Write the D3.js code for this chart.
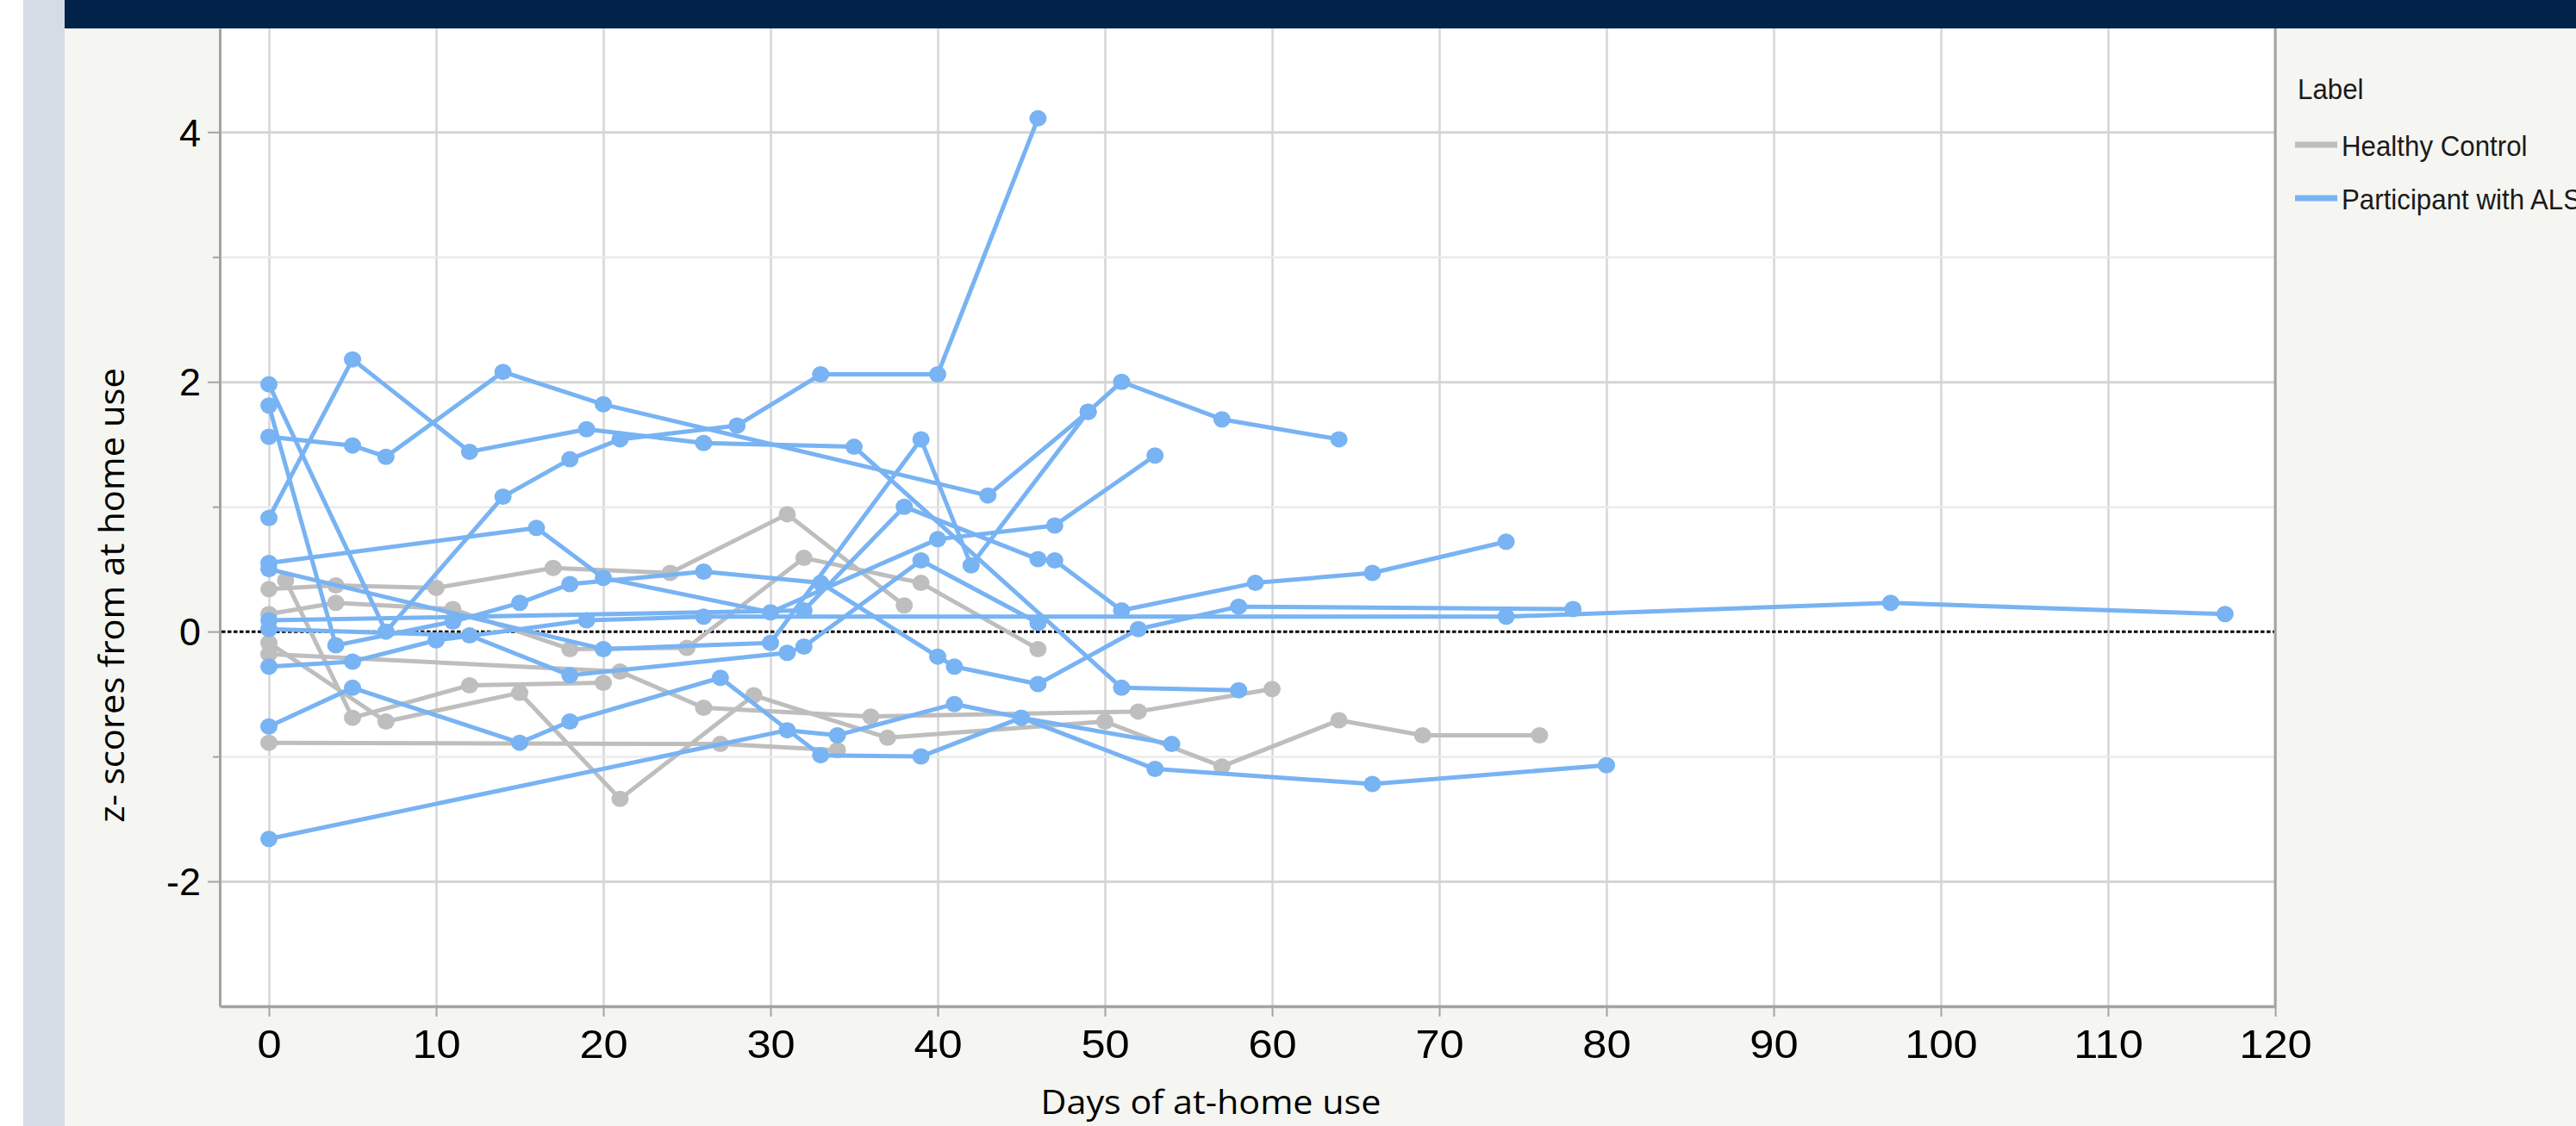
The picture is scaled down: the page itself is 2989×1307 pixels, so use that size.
<!DOCTYPE html>
<html>
<head>
<meta charset="utf-8">
<script src="https://cdn.jsdelivr.net/npm/d3@7"></script>
<style>
  html, body { margin: 0; padding: 0; background: #ffffff; }
  svg { display: block; }
</style>
</head>
<body>
<svg id="chart" width="2989" height="1307"></svg>
<script>
// ---- data: [day of at-home use, z-score] per participant ----
// Healthy controls
const hc1 = [[0,0.34],[4,0.37],[10,0.35],[17,0.51],[24,0.47],[31,0.94],[38,0.21]];
const hc2 = [[0,0.14],[4,0.23],[11,0.18],[18,-0.14],[25,-0.13],[32,0.59],[39,0.39],[46,-0.14]];
const hc3 = [[1,0.41],[5,-0.69],[12,-0.43],[20,-0.41]];
const hc4 = [[0,-0.09],[7,-0.72],[15,-0.49],[21,-1.34],[29,-0.51],[37,-0.85],[50,-0.72],[57,-1.08],[64,-0.71],[69,-0.83],[76,-0.83]];
const hc5 = [[0,-0.18],[21,-0.32],[26,-0.61],[36,-0.68],[52,-0.64],[60,-0.46]];
const hc6 = [[0,-0.89],[27,-0.90],[34,-0.95]];

// Participants with ALS
const als1  = [[0,1.98],[7,0.00],[14,1.08],[18,1.38],[21,1.54],[28,1.65],[33,2.06],[40,2.06],[46,4.11]];
const als2  = [[0,1.56],[5,1.49],[7,1.40],[14,2.08],[20,1.82],[43,1.09],[49,1.76],[51,2.00],[57,1.70],[64,1.54]];
const als3  = [[0,0.91],[5,2.18],[12,1.44],[19,1.62],[26,1.51],[35,1.48],[51,-0.45],[58,-0.47]];
const als4  = [[0,0.55],[16,0.83],[20,0.43],[30,0.155],[40,0.74],[47,0.85],[53,1.41]];
const als5  = [[0,0.50],[20,-0.14],[30,-0.09],[39,1.54],[42,0.53],[49,1.76]];
const als6  = [[0,1.81],[4,-0.11],[11,0.08],[15,0.23],[18,0.38],[26,0.48],[33,0.39],[40,-0.20],[41,-0.28],[46,-0.42],[52,0.02],[58,0.20],[78,0.18]];
const als7  = [[0,-0.28],[5,-0.24],[10,-0.07],[19,0.09],[26,0.12],[74,0.12],[97,0.23],[117,0.14]];
const als8  = [[0,0.02],[12,-0.03],[18,-0.35],[31,-0.17],[32,-0.12],[39,0.57],[46,0.07]];
const als9  = [[0,0.09],[32,0.17],[38,1.00],[46,0.58],[47,0.57],[51,0.17],[59,0.39],[66,0.47],[74,0.72]];
const als10 = [[0,-0.76],[5,-0.45],[15,-0.89],[18,-0.72],[27,-0.37],[33,-0.99],[39,-1.00],[45,-0.69],[54,-0.90]];
const als11 = [[0,-1.66],[31,-0.79],[34,-0.83],[41,-0.58],[45,-0.69],[53,-1.10],[66,-1.22],[80,-1.07]];

const controlSeries = [hc1, hc2, hc3, hc4, hc5, hc6];
const alsSeries = [als1, als2, als3, als4, als5, als6, als7, als8, als9, als10, als11];

// ---- axes and labels ----
const xTickValues = [0, 10, 20, 30, 40, 50, 60, 70, 80, 90, 100, 110, 120];
const yMajorTicks = [-2, 0, 2, 4];
const yMinorTicks = [-1, 1, 3];
const xTitle = "Days of at-home use";
const yTitle = "z- scores from at home use";
const legendTitle = "Label";
const groupLabels = ["Healthy Control", "Participant with ALS"];
const groupColors = ["#bebebe", "#78b3f3"];

// ---- layout ----
const W = 2989, H = 1307;
const plot = { left: 255, right: 2640, top: 33, bottom: 1168 };

const svg = d3.select("#chart");

const x = d3.scaleLinear().domain([-2.94, 120]).range([plot.left, plot.right]);
const y = d3.scaleLinear().domain([-3, 4.83]).range([plot.bottom, plot.top]);

// page backgrounds
svg.append("rect").attr("x", 0).attr("y", 0).attr("width", W).attr("height", H).attr("fill", "#ffffff");
svg.append("rect").attr("x", 75).attr("y", 0).attr("width", W - 75).attr("height", H).attr("fill", "#f5f5f1");
svg.append("rect").attr("x", 27).attr("y", 0).attr("width", 48).attr("height", H).attr("fill", "#d5dce6");
svg.append("rect").attr("x", 75).attr("y", 0).attr("width", W - 75).attr("height", 33).attr("fill", "#012249");

// plot frame
svg.append("rect")
  .attr("x", plot.left).attr("y", plot.top)
  .attr("width", plot.right - plot.left).attr("height", plot.bottom - plot.top)
  .attr("fill", "#ffffff");

svg.append("clipPath").attr("id", "plotClip")
  .append("rect")
  .attr("x", plot.left).attr("y", plot.top)
  .attr("width", plot.right - plot.left).attr("height", plot.bottom - plot.top);

// gridlines
const gridX = svg.append("g")
  .attr("transform", `translate(0,${plot.bottom})`)
  .call(d3.axisBottom(x).tickValues(xTickValues).tickSize(-(plot.bottom - plot.top)).tickFormat(""));
gridX.select(".domain").remove();
gridX.selectAll("line").attr("stroke", "#d6d6d6").attr("stroke-width", 2.5);

const gridMinor = svg.append("g")
  .attr("transform", `translate(${plot.left},0)`)
  .call(d3.axisLeft(y).tickValues(yMinorTicks).tickSize(-(plot.right - plot.left)).tickFormat(""));
gridMinor.select(".domain").remove();
gridMinor.selectAll("line").attr("stroke", "#ebebeb").attr("stroke-width", 2.5);

const gridMajor = svg.append("g")
  .attr("transform", `translate(${plot.left},0)`)
  .call(d3.axisLeft(y).tickValues(yMajorTicks.filter(v => v !== 0)).tickSize(-(plot.right - plot.left)).tickFormat(""));
gridMajor.select(".domain").remove();
gridMajor.selectAll("line").attr("stroke", "#d5d5d5").attr("stroke-width", 3);

// zero reference line
svg.append("line")
  .attr("x1", plot.left + 2).attr("x2", plot.right)
  .attr("y1", y(0)).attr("y2", y(0))
  .attr("stroke", "#000000").attr("stroke-width", 3)
  .attr("stroke-dasharray", "4.5 2.5");

// data
const line = d3.line().x(d => x(d[0])).y(d => y(d[1]));
const dataLayer = svg.append("g").attr("clip-path", "url(#plotClip)");

function drawGroup(seriesList, color) {
  const g = dataLayer.append("g");
  g.selectAll("path.series")
    .data(seriesList)
    .join("path")
    .attr("class", "series")
    .attr("d", line)
    .attr("fill", "none")
    .attr("stroke", color)
    .attr("stroke-width", 5)
    .attr("stroke-linejoin", "round")
    .attr("stroke-linecap", "round");
  g.selectAll("g.pts")
    .data(seriesList)
    .join("g")
    .attr("class", "pts")
    .selectAll("ellipse")
    .data(d => d)
    .join("ellipse")
    .attr("cx", d => x(d[0]))
    .attr("cy", d => y(d[1]))
    .attr("rx", 10)
    .attr("ry", 9.5)
    .attr("fill", color);
}
drawGroup(controlSeries, groupColors[0]);
drawGroup(alsSeries, groupColors[1]);

// axes
const axisColor = "#a3a3a3";
const tickFont = "'Liberation Sans', Arial, Helvetica, sans-serif";
const plainNumber = d => String(d);

const xAxis = svg.append("g")
  .attr("transform", `translate(0,${plot.bottom})`)
  .call(d3.axisBottom(x).tickValues(xTickValues).tickFormat(plainNumber)
    .tickSize(12).tickSizeOuter(0).tickPadding(15));
xAxis.select(".domain").attr("stroke", axisColor).attr("stroke-width", 3.5);
xAxis.selectAll(".tick line").attr("stroke", axisColor).attr("stroke-width", 2);
xAxis.selectAll(".tick text")
  .attr("font-family", tickFont).attr("font-size", 46).attr("fill", "#000")
  .attr("transform", "scale(1.1,1)");

const yAxis = svg.append("g")
  .attr("transform", `translate(${plot.left},0)`)
  .call(d3.axisLeft(y).tickValues(yMajorTicks).tickFormat(plainNumber)
    .tickSize(14).tickSizeOuter(0).tickPadding(8));
yAxis.select(".domain").attr("stroke", axisColor).attr("stroke-width", 3);
yAxis.selectAll(".tick line").attr("stroke", axisColor).attr("stroke-width", 2);
yAxis.selectAll(".tick text")
  .attr("font-family", tickFont).attr("font-size", 45).attr("fill", "#000")
  .attr("dy", "0.35em");

const yAxisMinor = svg.append("g")
  .attr("transform", `translate(${plot.left},0)`)
  .call(d3.axisLeft(y).tickValues(yMinorTicks).tickSize(8).tickFormat(""));
yAxisMinor.select(".domain").remove();
yAxisMinor.selectAll(".tick line").attr("stroke", axisColor).attr("stroke-width", 2);

// right border of the plot frame
svg.append("line")
  .attr("x1", plot.right).attr("x2", plot.right)
  .attr("y1", plot.top).attr("y2", plot.bottom)
  .attr("stroke", axisColor).attr("stroke-width", 3);

// axis titles
const titleFont = "'Open Sans', 'Noto Sans', sans-serif";
svg.append("text")
  .attr("x", 1405).attr("y", 1293)
  .attr("text-anchor", "middle")
  .attr("font-family", titleFont).attr("font-size", 39).attr("fill", "#000")
  .attr("textLength", 395).attr("lengthAdjust", "spacingAndGlyphs")
  .text(xTitle);

svg.append("text")
  .attr("transform", `translate(144,691) rotate(-90)`)
  .attr("text-anchor", "middle")
  .attr("font-family", titleFont).attr("font-size", 40).attr("fill", "#000")
  .attr("textLength", 528).attr("lengthAdjust", "spacingAndGlyphs")
  .text(yTitle);

// legend
const legendFont = "'Liberation Sans', Arial, Helvetica, sans-serif";
const legend = svg.append("g");
legend.append("text")
  .attr("transform", "translate(2666,115) scale(0.92,1)")
  .attr("font-family", legendFont).attr("font-size", 34).attr("fill", "#1a1a1a")
  .text(legendTitle);

const legendRows = legend.selectAll("g.row")
  .data(groupLabels)
  .join("g")
  .attr("class", "row")
  .attr("transform", (d, i) => `translate(0,${i * 62})`);
legendRows.append("line")
  .attr("x1", 2663).attr("x2", 2712)
  .attr("y1", 168).attr("y2", 168)
  .attr("stroke", (d, i) => groupColors[i])
  .attr("stroke-width", 7);
legendRows.append("text")
  .attr("transform", "translate(2717,181) scale(0.92,1)")
  .attr("font-family", legendFont).attr("font-size", 34).attr("fill", "#1a1a1a")
  .text(d => d);
</script>
</body>
</html>
